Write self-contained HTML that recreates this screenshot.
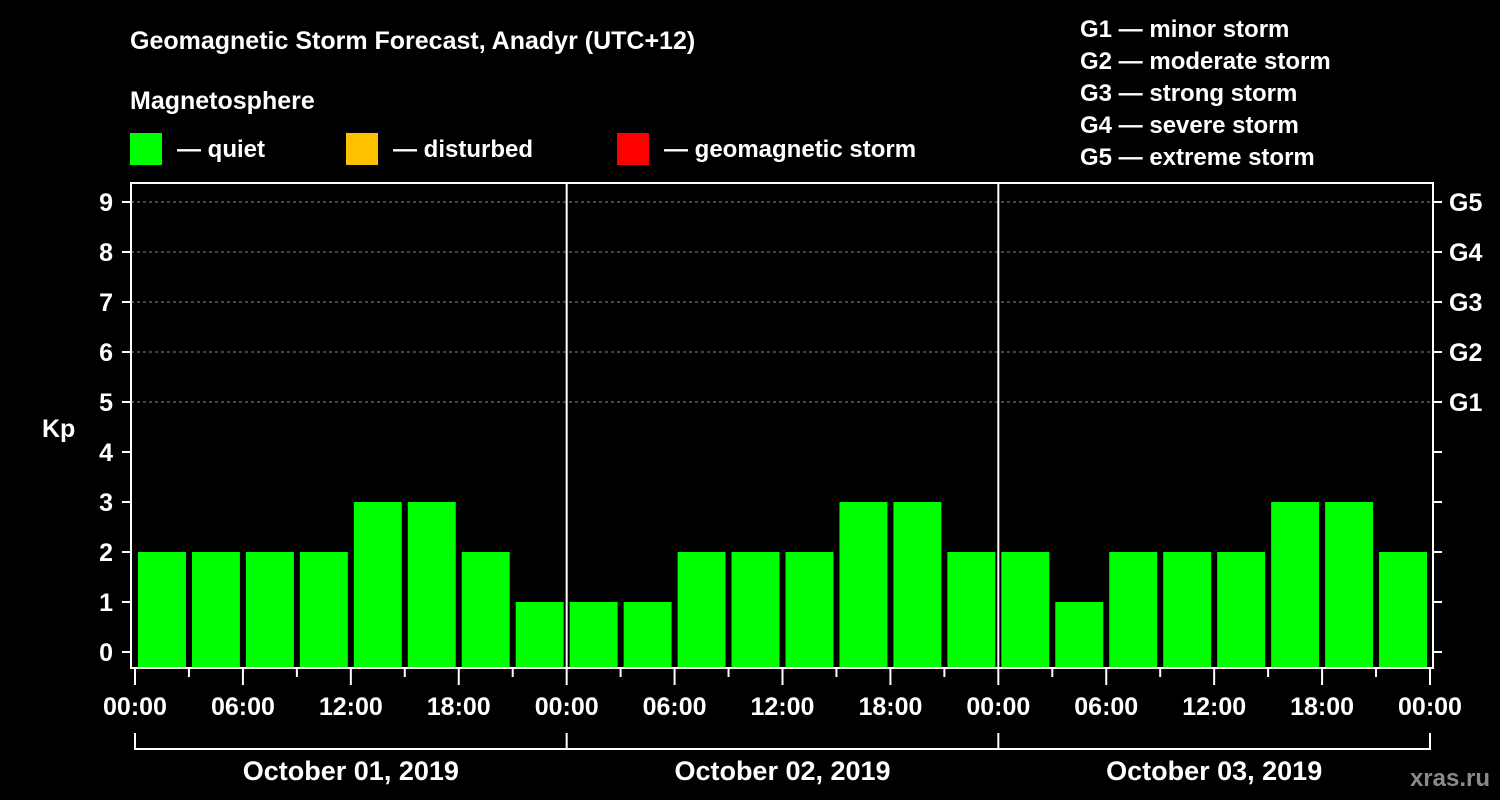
<!DOCTYPE html>
<html><head><meta charset="utf-8"><style>
body{margin:0;background:#000;width:1500px;height:800px;overflow:hidden}
svg{display:block}
text{font-family:"Liberation Sans",sans-serif;font-weight:bold;fill:#fff}
</style></head><body>
<svg id="chart" width="1500" height="800">
<text x="130" y="49" font-size="25">Geomagnetic Storm Forecast, Anadyr (UTC+12)</text>
<text x="130" y="109" font-size="25">Magnetosphere</text>
<g><rect x="130" y="133" width="32" height="32" fill="#00ff00"/><text x="177" y="157" font-size="24">— quiet</text></g>
<g><rect x="346" y="133" width="32" height="32" fill="#ffc000"/><text x="393" y="157" font-size="24">— disturbed</text></g>
<g><rect x="617" y="133" width="32" height="32" fill="#ff0000"/><text x="664" y="157" font-size="24">— geomagnetic storm</text></g>
<g font-size="24">
<text x="1080" y="37">G1 — minor storm</text><text x="1080" y="69">G2 — moderate storm</text><text x="1080" y="101">G3 — strong storm</text><text x="1080" y="133">G4 — severe storm</text><text x="1080" y="165">G5 — extreme storm</text></g>
<text x="42" y="437" font-size="25">Kp</text>
<text x="1490" y="786" font-size="24" text-anchor="end" fill="#888" style="fill:#8a8a8a">xras.ru</text>
<g id="plot"></g>
</svg>
<script>
const kpValues=[2,2,2,2,3,3,2,1, 1,1,2,2,2,3,3,2, 2,1,2,2,2,3,3,2];
const yTicks=[0,1,2,3,4,5,6,7,8,9];
const gLabels=["G1","G2","G3","G4","G5"];
const gLevels=[5,6,7,8,9];
const timeLabels=["00:00","06:00","12:00","18:00","00:00","06:00","12:00","18:00","00:00","06:00","12:00","18:00","00:00"];
const dayLabels=["October 01, 2019","October 02, 2019","October 03, 2019"];
const NS="http://www.w3.org/2000/svg";
const g=document.getElementById('plot');
const x0=135,x1=1430,yBase=652,unit=50,plotTop=183,plotBot=668;
const X=h=>x0+(x1-x0)*h/72;
const Y=v=>yBase-v*unit;
function mk(t,a){const e=document.createElementNS(NS,t);for(const k in a)e.setAttribute(k,a[k]);g.appendChild(e);return e;}
// grid
gLevels.forEach(v=>{const l=mk('line',{x1:131,x2:1433,y1:Y(v),y2:Y(v),stroke:'#888','stroke-dasharray':'3,3','stroke-width':1});

});
// bars
kpValues.forEach((v,i)=>{const a=X(i*3)+3,b=X(i*3+3)-3;const r=mk('rect',{x:a,y:Y(v),width:b-a,height:plotBot-1-Y(v),fill:'#00ff00'});

});
// frame
const f=mk('rect',{x:131,y:plotTop,width:1302,height:plotBot-plotTop,fill:'none',stroke:'#fff','stroke-width':2});


[1,2].forEach(d=>{const l=mk('line',{x1:X(d*24),x2:X(d*24),y1:plotTop,y2:plotBot,stroke:'#fff','stroke-width':2});

});
// y ticks
yTicks.forEach(v=>{mk('line',{x1:122,x2:131,y1:Y(v),y2:Y(v),stroke:'#fff','stroke-width':2});
mk('line',{x1:1433,x2:1442,y1:Y(v),y2:Y(v),stroke:'#fff','stroke-width':2});
const t=mk('text',{x:113,y:Y(v)+9,'font-size':25,'text-anchor':'end'});t.textContent=v;

});
gLabels.forEach((s,i)=>{const t=mk('text',{x:1449,y:Y(gLevels[i])+9,'font-size':25});t.textContent=s;

});
// x ticks
for(let h=0;h<=72;h+=3){const major=h%6===0;mk('line',{x1:X(h),x2:X(h),y1:plotBot,y2:plotBot+(major?17:9),stroke:'#fff','stroke-width':2});}
timeLabels.forEach((s,i)=>{const t=mk('text',{x:X(i*6),y:715,'font-size':25,'text-anchor':'middle'});t.textContent=s;

});
// day bracket
mk('line',{x1:X(0),x2:X(72),y1:749,y2:749,stroke:'#fff','stroke-width':2});
for(let d=0;d<=3;d++)mk('line',{x1:X(d*24),x2:X(d*24),y1:733,y2:750,stroke:'#fff','stroke-width':2});
dayLabels.forEach((s,i)=>{const t=mk('text',{x:X(i*24+12),y:780,'font-size':27,'text-anchor':'middle'});t.textContent=s;

});
</script>
</body></html>
